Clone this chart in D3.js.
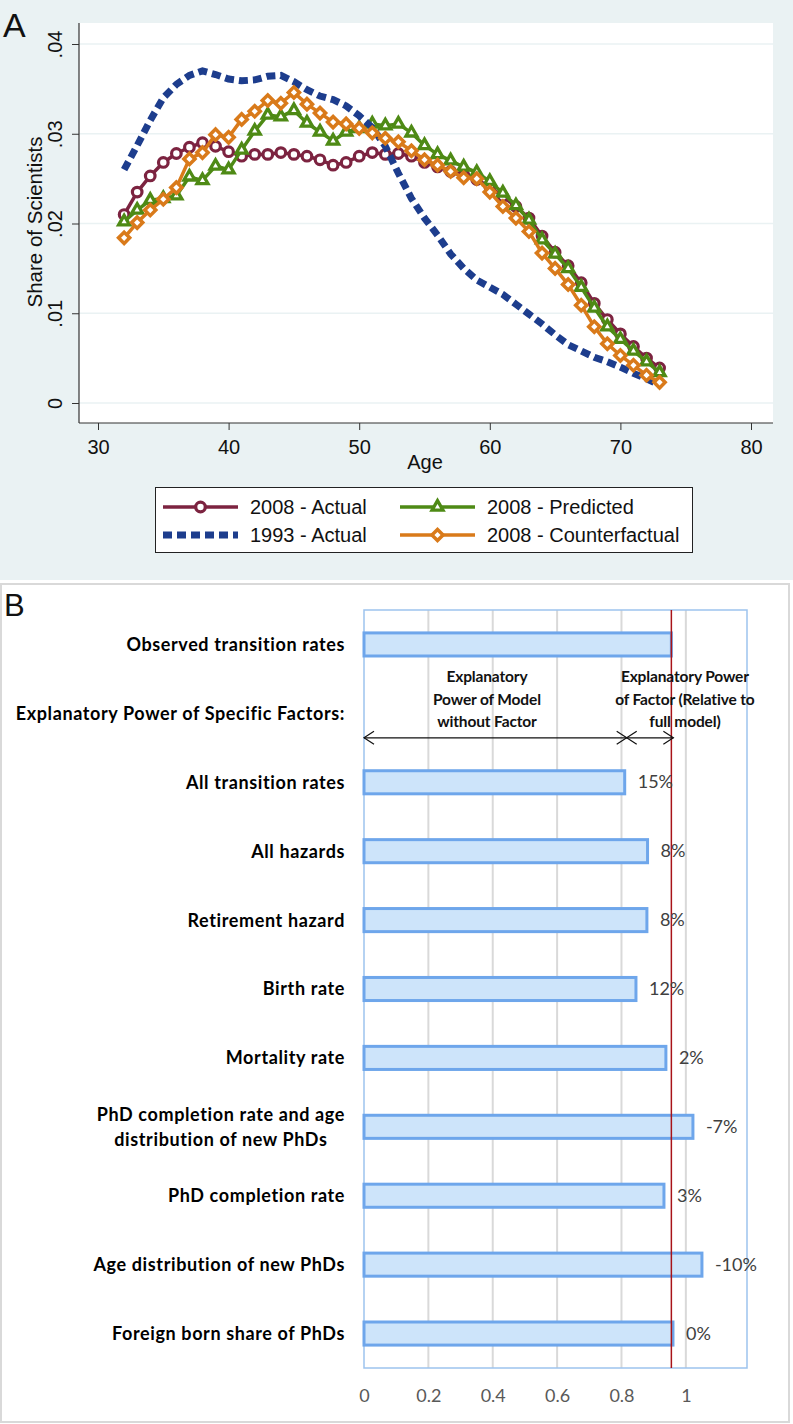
<!DOCTYPE html>
<html><head><meta charset="utf-8">
<script src="https://cdn.jsdelivr.net/npm/d3@7"></script>
<style>body{margin:0;background:#fff} svg{display:block}</style>
</head><body><svg id="c" width="793" height="1424"></svg>
<script>
// ---------- Panel A data ----------
const ages = [32,33,34,35,36,37,38,39,40,41,42,43,44,45,46,47,48,49,50,51,52,53,54,55,56,57,58,59,60,61,62,63,64,65,66,67,68,69,70,71,72,73];
const actual2008 = [.0210,.0235,.0253,.0268,.0278,.0285,.0290,.0286,.0280,.0275,.0277,.0277,.0279,.0277,.0275,.0271,.0265,.0268,.0275,.0279,.0277,.0278,.0275,.0268,.0263,.0258,.0254,.0249,.0241,.0230,.0219,.0206,.0186,.0168,.0153,.0134,.0111,.0093,.0077,.0063,.0050,.0039];
const actual1993 = [.0260,.0287,.0315,.0340,.0355,.0365,.0370,.0366,.0361,.0359,.0360,.0364,.0365,.0358,.0349,.0342,.0338,.0331,.0320,.0307,.0286,.0256,.0228,.0206,.0187,.0166,.0150,.0137,.0129,.0121,.0110,.0099,.0088,.0076,.0065,.0058,.0051,.0046,.0040,.0033,.0027,.0020];
const predicted2008 = [.0202,.0215,.0226,.0228,.0231,.0252,.0248,.0264,.0260,.0282,.0303,.0321,.0319,.0326,.0312,.0302,.0292,.0302,.0306,.0311,.0309,.0311,.0301,.0287,.0277,.0270,.0263,.0257,.0247,.0234,.0220,.0204,.0182,.0166,.0150,.0129,.0106,.0085,.0071,.0058,.0046,.0034];
const counterfactual2008 = [.0184,.0201,.0215,.0227,.0240,.0272,.0279,.0299,.0296,.0316,.0325,.0337,.0334,.0346,.0333,.0323,.0313,.0311,.0306,.0301,.0295,.0291,.0281,.0271,.0265,.0258,.0251,.0250,.0235,.0219,.0206,.0191,.0167,.0150,.0132,.0109,.0085,.0066,.0053,.0042,.0031,.0023];
const ageTicks = [30,40,50,60,70,80];
const shareTicks = [0,0.01,0.02,0.03,0.04];
const shareTickLabels = ["0",".01",".02",".03",".04"];

// ---------- Panel B data ----------
const observedLabel = "Observed transition rates";
const observedValue = 0.955;
const headerLabel = "Explanatory Power of Specific Factors:";
const factorLabels = ["All transition rates","All hazards","Retirement hazard","Birth rate","Mortality rate","PhD completion rate and age\ndistribution of new PhDs","PhD completion rate","Age distribution of new PhDs","Foreign born share of PhDs"];
const factorValues = [0.81,0.881,0.879,0.845,0.938,1.022,0.932,1.050,0.960];
const factorPctLabels = ["15%","8%","8%","12%","2%","-7%","3%","-10%","0%"];
const powerTicks = [0,0.2,0.4,0.6,0.8,1];
const powerTickLabels = ["0","0.2","0.4","0.6","0.8","1"];

const svg = d3.select("#c");
const AF = "'Liberation Sans', Arial, sans-serif";
const BF = "Lato, 'Open Sans', sans-serif";

// ================= PANEL A =================
svg.append("rect").attr("x",0).attr("y",0).attr("width",793).attr("height",580).attr("fill","#eaf2f3");
const pA = {l:79, r:773, t:23, b:423};
svg.append("rect").attr("x",pA.l).attr("y",pA.t).attr("width",pA.r-pA.l).attr("height",pA.b-pA.t).attr("fill","#fff");
const xA = d3.scaleLinear().domain([30,80]).range([98,751]);
const yA = d3.scaleLinear().domain([0,0.04]).range([403,44]);

svg.append("g").selectAll("line").data(shareTicks).join("line")
  .attr("x1",pA.l).attr("x2",pA.r).attr("y1",d=>yA(d)).attr("y2",d=>yA(d))
  .attr("stroke","#eaf2f3").attr("stroke-width",1.5);

const gy = svg.append("g").attr("transform",`translate(${pA.l},0)`)
  .call(d3.axisLeft(yA).tickValues(shareTicks).tickFormat((d,i)=>shareTickLabels[i]).tickSize(7).tickSizeOuter(0));
gy.select(".domain").remove();
gy.selectAll("line").attr("stroke","#333");
gy.selectAll("text").attr("x",null).attr("dy",null).attr("text-anchor","middle")
  .attr("transform","translate(-17,0) rotate(-90)")
  .attr("font-family",AF).attr("font-size",20).attr("fill","#111");

const gx = svg.append("g").attr("transform",`translate(0,${pA.b})`)
  .call(d3.axisBottom(xA).tickValues(ageTicks).tickSize(7).tickPadding(10).tickSizeOuter(0));
gx.select(".domain").remove();
gx.selectAll("line").attr("stroke","#333");
gx.selectAll("text").attr("font-family",AF).attr("font-size",20).attr("fill","#111");

svg.append("line").attr("x1",pA.l).attr("x2",pA.l).attr("y1",pA.t).attr("y2",pA.b).attr("stroke","#333").attr("stroke-width",1.2);
svg.append("line").attr("x1",pA.l).attr("x2",pA.r).attr("y1",pA.b).attr("y2",pA.b).attr("stroke","#333").attr("stroke-width",1.2);

svg.append("text").attr("x",425).attr("y",469).attr("text-anchor","middle").attr("font-family",AF).attr("font-size",20).attr("fill","#111").text("Age");
svg.append("text").attr("transform","translate(42,222) rotate(-90)").attr("text-anchor","middle").attr("font-family",AF).attr("font-size",20.5).attr("fill","#111").text("Share of Scientists");
svg.append("text").attr("x",3).attr("y",37).attr("font-family",AF).attr("font-size",34).attr("fill","#111").text("A");

const cMaroon = "#7c2340", cNavy = "#1d3d8d", cGreen = "#4e8a15", cOrange = "#d97a1a";
const line = d3.line().x((d,i)=>xA(ages[i])).y(d=>yA(d));
const series = [
  {name:"2008 - Actual", vals:actual2008, color:cMaroon, marker:"circle"},
  {name:"2008 - Predicted", vals:predicted2008, color:cGreen, marker:"triangle"},
  {name:"1993 - Actual", vals:actual1993, color:cNavy, marker:"none"},
  {name:"2008 - Counterfactual", vals:counterfactual2008, color:cOrange, marker:"diamond"}
];
function drawMarker(g, type, color){
  if(type==="circle"){
    g.append("circle").attr("r",4.8).attr("fill","#fff").attr("stroke",color).attr("stroke-width",3.2);
  } else if(type==="triangle"){
    g.append("path").attr("d",d3.symbol(d3.symbolTriangle,52)()).attr("fill","#fff").attr("stroke",color).attr("stroke-width",3.3).attr("stroke-linejoin","miter");
  } else if(type==="diamond"){
    g.append("path").attr("d",d3.symbol(d3.symbolSquare,62)()).attr("transform","rotate(45)").attr("fill","#fff").attr("stroke",color).attr("stroke-width",3.5);
  }
}
series.forEach(s=>{
  const p = svg.append("path").attr("d",line(s.vals)).attr("fill","none").attr("stroke",s.color);
  if(s.marker==="none"){
    p.attr("stroke-width",7).attr("stroke-dasharray","9,5");
  } else {
    p.attr("stroke-width",3.5).attr("stroke-linejoin","round");
    const mg = svg.append("g");
    s.vals.forEach((v,i)=>{
      const g = mg.append("g").attr("transform",`translate(${xA(ages[i])},${yA(v)})`);
      drawMarker(g, s.marker, s.color);
    });
  }
});

// legend
svg.append("rect").attr("x",155.5).attr("y",487.5).attr("width",537).attr("height",65).attr("fill","#fff").attr("stroke","#222").attr("stroke-width",1);
const legendItems = [
  {s:series[0], x:163, y:507},
  {s:series[1], x:400, y:507},
  {s:series[2], x:163, y:535},
  {s:series[3], x:400, y:535}
];
legendItems.forEach(it=>{
  const s = it.s;
  const l = svg.append("line").attr("x1",it.x).attr("x2",it.x+75).attr("y1",it.y).attr("y2",it.y).attr("stroke",s.color);
  if(s.marker==="none"){ l.attr("stroke-width",7).attr("stroke-dasharray","9,5"); }
  else {
    l.attr("stroke-width",3.5);
    const g = svg.append("g").attr("transform",`translate(${it.x+37.5},${it.y})`);
    drawMarker(g, s.marker, s.color);
  }
  svg.append("text").attr("x",it.x+87).attr("y",it.y+7).attr("font-family",AF).attr("font-size",20).attr("fill","#111").text(s.name);
});

// ================= PANEL B =================
svg.append("rect").attr("x",1).attr("y",584).attr("width",788).attr("height",838).attr("fill","#fff").attr("stroke","#d9d9d9").attr("stroke-width",2);
svg.append("text").attr("x",4).attr("y",616).attr("font-family",AF).attr("font-size",31).attr("fill","#111").text("B");

const rows = [observedLabel, headerLabel].concat(factorLabels);
const yB = d3.scaleBand().domain(rows).range([610,1368]).paddingInner(0.665).paddingOuter(0.3325);
const xB = d3.scaleLinear().domain([0,1.19]).range([364,747]);

// gridlines
svg.append("g").selectAll("line").data(powerTicks.slice(1)).join("line")
  .attr("x1",d=>xB(d)).attr("x2",d=>xB(d)).attr("y1",610).attr("y2",1368)
  .attr("stroke","#d9d9d9").attr("stroke-width",2);
// frame
svg.append("rect").attr("x",364).attr("y",610).attr("width",383).attr("height",758).attr("fill","none").attr("stroke","#9dc3ee").attr("stroke-width",1.5);

// bars
const barData = [{label:observedLabel, v:observedValue}].concat(factorLabels.map((l,i)=>({label:l, v:factorValues[i], pct:factorPctLabels[i]})));
svg.append("g").selectAll("rect").data(barData).join("rect")
  .attr("x",xB(0)).attr("y",d=>yB(d.label)).attr("width",d=>xB(d.v)-xB(0)).attr("height",yB.bandwidth())
  .attr("fill","#cde4fa").attr("stroke","#6ea6eb").attr("stroke-width",3);

// red reference line
svg.append("line").attr("x1",xB(observedValue)).attr("x2",xB(observedValue)).attr("y1",610).attr("y2",1368)
  .attr("stroke","#a81318").attr("stroke-width",1.5);

// pct labels
svg.append("g").selectAll("text").data(barData.slice(1)).join("text")
  .attr("x",d=>xB(d.v)+13).attr("y",d=>yB(d.label)+yB.bandwidth()/2+6)
  .attr("font-family",BF).attr("font-size",18).attr("fill","#404040").text(d=>d.pct);

// x axis labels
const gxb = svg.append("g").attr("transform","translate(0,1368)")
  .call(d3.axisBottom(xB).tickValues(powerTicks).tickFormat((d,i)=>powerTickLabels[i]).tickSize(0).tickPadding(21));
gxb.select(".domain").remove();
gxb.selectAll("text").attr("font-family",BF).attr("font-size",18).attr("fill","#595959");

// category labels: fixed size, letter-spacing fitted to the reference width
const catFs = 18;
const probe = svg.append("text").attr("font-family",BF).attr("font-weight",700).attr("font-size",catFs).text(headerLabel);
const catLs = (329 - probe.node().getComputedTextLength())/headerLabel.length;
probe.remove();
function catText(x,y,anchor,txt){
  return svg.append("text").attr("x",x).attr("y",y).attr("dy","0.36em").attr("text-anchor",anchor)
    .attr("font-family",BF).attr("font-weight",700).attr("font-size",catFs).attr("letter-spacing",catLs)
    .attr("fill","#000").text(txt);
}
rows.forEach(r=>{
  const cy = yB(r)+yB.bandwidth()/2;
  const parts = r.split("\n");
  if(parts.length===1){
    catText(345,cy,"end",r);
  } else {
    const t1 = catText(345,cy-12.5,"end",parts[0]);
    const w1 = t1.node().getComputedTextLength();
    catText(345-w1/2,cy+12.5,"middle",parts[1]);
  }
});

// annotation
const hc = yB(headerLabel)+yB.bandwidth()/2;
const annFs = 15.5;
const probe2 = svg.append("text").attr("font-family",BF).attr("font-weight",700).attr("font-size",annFs).text("Explanatory Power");
const annLs = (128 - probe2.node().getComputedTextLength())/17;
probe2.remove();
const annLeft = ["Explanatory","Power of Model","without Factor"];
const annRight = ["Explanatory Power","of Factor (Relative to","full model)"];
[-36.5,-14,8.5].forEach((off,i)=>{
  svg.append("text").attr("x",xB(0.382)).attr("y",hc+off).attr("dy","0.36em").attr("text-anchor","middle")
    .attr("font-family",BF).attr("font-weight",700).attr("font-size",annFs).attr("letter-spacing",annLs).attr("fill","#111").text(annLeft[i]);
  svg.append("text").attr("x",xB(0.997)).attr("y",hc+off).attr("dy","0.36em").attr("text-anchor","middle")
    .attr("font-family",BF).attr("font-weight",700).attr("font-size",annFs).attr("letter-spacing",annLs).attr("fill","#111").text(annRight[i]);
});
const ay = hc+24.5;
const xL = xB(0), xM = xB(factorValues[0])+2, xR = xB(observedValue)+2;
svg.append("line").attr("x1",xL).attr("x2",xR).attr("y1",ay).attr("y2",ay).attr("stroke","#111").attr("stroke-width",1.2);
function head(tipX, dir){
  svg.append("path").attr("d",`M${tipX+dir*10},${ay-6.5}L${tipX},${ay}L${tipX+dir*10},${ay+6.5}`)
    .attr("fill","none").attr("stroke","#111").attr("stroke-width",1.2);
}
head(xL,1); head(xM,-1); head(xM,1); head(xR,-1);
</script></body></html>
